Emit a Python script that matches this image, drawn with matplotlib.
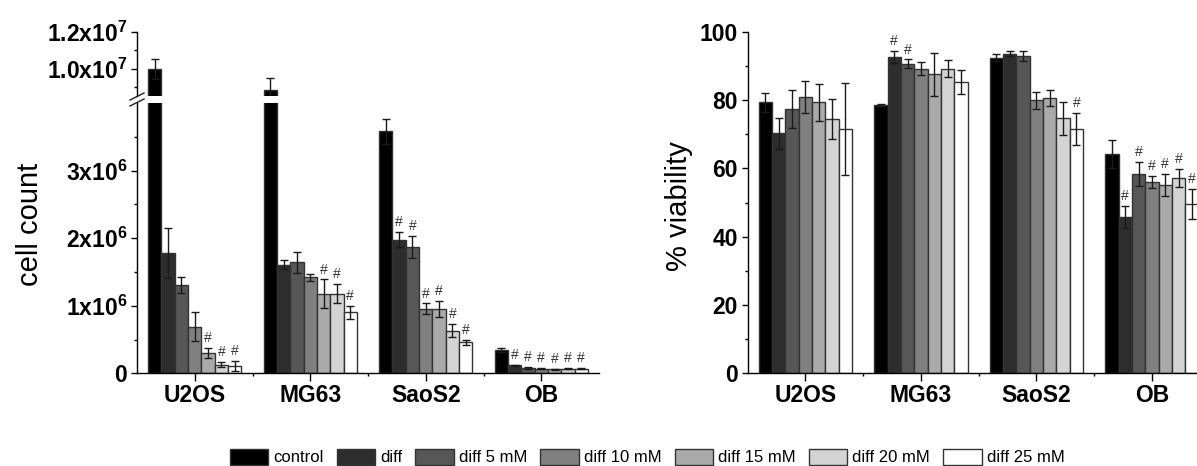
import matplotlib
matplotlib.use('Agg')
import matplotlib.pyplot as plt
import numpy as np
from matplotlib.patches import Patch
from matplotlib.lines import Line2D

plt.rcParams['font.family'] = ['Liberation Sans', 'DejaVu Sans']
plt.rcParams['mathtext.fontset'] = 'custom'
plt.rcParams['mathtext.rm'] = 'Liberation Sans'
plt.rcParams['mathtext.bf'] = 'Liberation Sans:bold'
plt.rcParams['mathtext.it'] = 'Liberation Sans:italic'

# ---------------- data ----------------
cell_lines = ['U2OS', 'MG63', 'SaoS2', 'OB']
treatments = ['control', 'diff', 'diff 5 mM', 'diff 10 mM', 'diff 15 mM', 'diff 20 mM', 'diff 25 mM']
colors = ['#000000', '#2d2d2d', '#575757', '#808080', '#aaaaaa', '#d4d4d4', '#ffffff']

# cell count (per cell line, one value per treatment)
u2os_count = [10.0e6, 1.78e6, 1.31e6, 0.69e6, 0.30e6, 0.13e6, 0.11e6]
u2os_count_err = [0.55e6, 0.37e6, 0.12e6, 0.21e6, 0.08e6, 0.035e6, 0.07e6]
mg63_count = [8.85e6, 1.61e6, 1.64e6, 1.42e6, 1.18e6, 1.18e6, 0.90e6]
mg63_count_err = [0.62e6, 0.07e6, 0.15e6, 0.05e6, 0.21e6, 0.14e6, 0.10e6]
saos2_count = [3.58e6, 1.98e6, 1.87e6, 0.955e6, 0.955e6, 0.63e6, 0.46e6]
saos2_count_err = [0.19e6, 0.11e6, 0.16e6, 0.08e6, 0.12e6, 0.10e6, 0.04e6]
ob_count = [0.34e6, 0.12e6, 0.08e6, 0.07e6, 0.06e6, 0.07e6, 0.07e6]
ob_count_err = [0.03e6, 0.01e6, 0.01e6, 0.01e6, 0.01e6, 0.01e6, 0.01e6]
u2os_count_sig = [0, 0, 0, 0, 1, 1, 1]
mg63_count_sig = [0, 0, 0, 0, 1, 1, 1]
saos2_count_sig = [0, 1, 1, 1, 1, 1, 1]
ob_count_sig = [0, 1, 1, 1, 1, 1, 1]

# % viability
u2os_via = [79.4, 70.2, 77.3, 80.9, 79.4, 74.4, 71.5]
u2os_via_err = [2.8, 4.4, 5.6, 4.7, 5.4, 5.8, 13.5]
mg63_via = [78.5, 92.6, 90.6, 89.2, 87.5, 89.2, 85.3]
mg63_via_err = [0.3, 1.7, 1.3, 1.8, 6.2, 2.4, 3.4]
saos2_via = [92.4, 93.6, 92.8, 79.9, 80.6, 74.6, 71.5]
saos2_via_err = [1.0, 0.7, 1.5, 2.4, 2.3, 4.8, 4.8]
ob_via = [64.3, 45.8, 58.3, 56.0, 55.1, 57.2, 49.5]
ob_via_err = [4.1, 3.2, 3.6, 1.8, 3.2, 2.7, 4.4]
u2os_via_sig = [0, 0, 0, 0, 0, 0, 0]
mg63_via_sig = [0, 1, 1, 0, 0, 0, 0]
saos2_via_sig = [0, 0, 0, 0, 0, 0, 1]
ob_via_sig = [0, 1, 1, 1, 1, 1, 1]

count_means = np.array([u2os_count, mg63_count, saos2_count, ob_count])
count_errs = np.array([u2os_count_err, mg63_count_err, saos2_count_err, ob_count_err])
count_sigs = np.array([u2os_count_sig, mg63_count_sig, saos2_count_sig, ob_count_sig])
via_means = np.array([u2os_via, mg63_via, saos2_via, ob_via])
via_errs = np.array([u2os_via_err, mg63_via_err, saos2_via_err, ob_via_err])
via_sigs = np.array([u2os_via_sig, mg63_via_sig, saos2_via_sig, ob_via_sig])

# ---------------- layout ----------------
W, H = 1197, 466
fig = plt.figure(figsize=(W / 100, H / 100), dpi=100)

def fx(px):
    return px / W

def fy(py):
    return 1 - py / H

ax_lo = fig.add_axes([fx(137), fy(373.3), fx(599) - fx(137), fy(103) - fy(373.3)])
ax_hi = fig.add_axes([fx(137), fy(96), fx(599) - fx(137), fy(32) - fy(96)])
ax_r = fig.add_axes([fx(747.7), fy(373.3), fx(1209.7) - fx(747.7), fy(31.7) - fy(373.3)])

centers = np.arange(1, len(cell_lines) + 1)
bw = 0.1155
edge = '#333333'
TICK_FS = 16.5


def draw_bars(ax, means, errs, sigs, show_hash=True):
    for i in range(len(treatments)):
        xs = centers + (i - 3) * bw
        ax.bar(xs, means[:, i], width=bw, color=colors[i], edgecolor=edge,
               linewidth=1.0, zorder=2)
        ax.errorbar(xs, means[:, i], yerr=errs[:, i], fmt='none', ecolor='#1a1a1a',
                    elinewidth=1.0, capsize=2.6, capthick=1.0, zorder=3)
        if show_hash:
            for j in range(len(cell_lines)):
                if sigs[j, i]:
                    ax.annotate('#', (xs[j], means[j, i] + errs[j, i]),
                                xytext=(0, 2.0), textcoords='offset points',
                                ha='center', va='bottom', fontsize=10,
                                color='#333333', zorder=4)


def style_axis(ax):
    for s in ['top', 'right']:
        ax.spines[s].set_visible(False)
    for s in ['left', 'bottom']:
        ax.spines[s].set_linewidth(1.0)
    ax.set_xlim(0.5, 4.5)
    ax.tick_params(axis='y', which='major', direction='out', length=4, width=1,
                   labelsize=TICK_FS, pad=3)
    ax.tick_params(axis='y', which='minor', direction='out', length=2.5, width=1)


# left lower
draw_bars(ax_lo, count_means, count_errs, count_sigs)
style_axis(ax_lo)
ax_lo.set_ylim(0, 4.0e6)
ax_lo.set_yticks([0, 1e6, 2e6, 3e6])
ax_lo.set_yticklabels(['0', r'$\mathbf{1x10^6}$', r'$\mathbf{2x10^6}$', r'$\mathbf{3x10^6}$'],
                      fontweight='bold')
ax_lo.set_yticks(np.arange(0.5e6, 4.0e6, 1e6), minor=True)

# left upper
draw_bars(ax_hi, count_means, count_errs, count_sigs, show_hash=False)
style_axis(ax_hi)
ax_hi.spines['bottom'].set_visible(False)
ax_hi.set_ylim(8.5e6, 1.2e7)
ax_hi.set_yticks([1.0e7, 1.2e7])
ax_hi.set_yticklabels([r'$\mathbf{1.0x10^7}$', r'$\mathbf{1.2x10^7}$'], fontweight='bold')
ax_hi.set_yticks([0.9e7, 1.1e7], minor=True)
ax_hi.set_xticks([])
ax_hi.tick_params(axis='x', which='both', bottom=False, labelbottom=False)

# right
draw_bars(ax_r, via_means, via_errs, via_sigs)
style_axis(ax_r)
ax_r.set_ylim(0, 100)
ax_r.set_yticks(np.arange(0, 101, 20))
ax_r.set_yticklabels([str(v) for v in range(0, 101, 20)], fontweight='bold')
ax_r.set_yticks(np.arange(10, 100, 20), minor=True)

for ax in (ax_lo, ax_r):
    ax.set_xticks(centers)
    ax.set_xticklabels(cell_lines, fontsize=TICK_FS, fontweight='bold')
    ax.set_xticks(centers[:-1] + 0.5, minor=True)
    ax.tick_params(axis='x', which='major', direction='out', length=5.5, width=1, pad=2.5)
    ax.tick_params(axis='x', which='minor', direction='out', length=2.5, width=1)

# axis labels
fig.text(fx(30), fy(224), 'cell count', rotation=90, ha='center', va='center', fontsize=21)
fig.text(fx(679), fy(206), '% viability', rotation=90, ha='center', va='center', fontsize=21)

# break marks on the left y axis
for yc in (96.5, 102.5):
    fig.add_artist(Line2D([fx(130), fx(144)], [fy(yc + 3.5), fy(yc - 3.5)],
                          transform=fig.transFigure, color='#222222', lw=1.0))

# legend
handles = [Patch(facecolor=c, edgecolor=edge, linewidth=1.0) for c in colors]
fig.legend(handles, treatments, loc='center', bbox_to_anchor=(fx(647), fy(457)),
           ncol=7, frameon=False, fontsize=12, handlelength=2.3, handleheight=1.1,
           handletextpad=0.3, columnspacing=0.8, borderaxespad=0, borderpad=0)

fig.savefig('out.png', dpi=100)
